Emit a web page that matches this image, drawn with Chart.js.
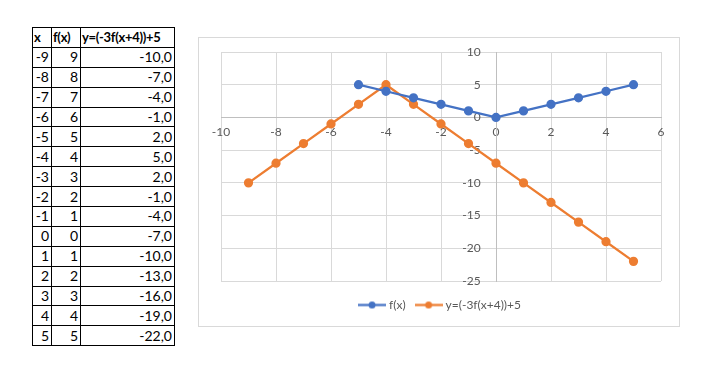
<!DOCTYPE html>
<html lang="en">
<head>
    <meta charset="UTF-8">
    <title>f(x) and y=(-3f(x+4))+5</title>
    <script src="https://cdn.jsdelivr.net/npm/chart.js"></script>
    <style>
        body {
            margin: 0;
            padding: 0;
            background-color: #ffffff;
            font-family: 'Lato', 'Open Sans', sans-serif;
            width: 712px;
            height: 374px;
            position: relative;
            overflow: hidden;
        }

        table {
            position: absolute;
            left: 32px;
            top: 27px;
            width: 142px;
            table-layout: fixed;
            border-collapse: collapse;
            font-size: 14px;
            color: #000;
        }

        table th, table td {
            border: 1px solid #000;
            height: 18.9px;
            padding: 0 2px;
            text-align: right;
            line-height: 18px;
            white-space: nowrap;
            overflow: visible;
        }

        table th {
            font-weight: 700;
            font-size: 13px;
            letter-spacing: -0.3px;
            text-align: left;
            padding: 0 1px;
        }

        .chart-box {
            position: absolute;
            left: 198px;
            top: 37px;
            width: 480px;
            height: 288px;
            border: 1px solid #d9d9d9;
        }
    </style>
</head>
<body>
    <table>
        <colgroup>
            <col style="width: 19px">
            <col style="width: 29px">
            <col style="width: 94px">
        </colgroup>
        <thead>
            <tr>
                <th>x</th>
                <th>f(x)</th>
                <th>y=(-3f(x+4))+5</th>
            </tr>
        </thead>
        <tbody id="table-body"></tbody>
    </table>

    <div class="chart-box">
        <canvas id="chart" width="480" height="288"></canvas>
    </div>

    <script>
        // table values
        const xValues = [-9, -8, -7, -6, -5, -4, -3, -2, -1, 0, 1, 2, 3, 4, 5];
        const fValues = [9, 8, 7, 6, 5, 4, 3, 2, 1, 0, 1, 2, 3, 4, 5];
        const yValues = [-10, -7, -4, -1, 2, 5, 2, -1, -4, -7, -10, -13, -16, -19, -22];

        // the f(x) series only shows x = -5..5 in the chart
        const fPlotX = [-5, -4, -3, -2, -1, 0, 1, 2, 3, 4, 5];
        const fPlotY = [5, 4, 3, 2, 1, 0, 1, 2, 3, 4, 5];

        const seriesNames = ['f(x)', 'y=(-3f(x+4))+5'];
        const seriesColors = ['#4472C4', '#ED7D31'];

        const xTicks = [-10, -8, -6, -4, -2, 0, 2, 4, 6];
        const yTicks = [10, 5, 0, -5, -10, -15, -20, -25];

        // build the table
        const tbody = document.getElementById('table-body');
        xValues.forEach((x, i) => {
            const row = document.createElement('tr');
            row.innerHTML = `
                <td>${x}</td>
                <td>${fValues[i]}</td>
                <td>${yValues[i].toFixed(1).replace('.', ',')}</td>
            `;
            tbody.appendChild(row);
        });

        function toPoints(xs, ys) {
            return xs.map((x, i) => ({ x: x, y: ys[i] }));
        }

        // small line + dot icon like the Excel legend
        function legendIcon(color) {
            const c = document.createElement('canvas');
            c.width = 28;
            c.height = 9;
            const g = c.getContext('2d');
            g.strokeStyle = color;
            g.lineWidth = 2.25;
            g.beginPath();
            g.moveTo(0, 4.5);
            g.lineTo(28, 4.5);
            g.stroke();
            g.fillStyle = color;
            g.beginPath();
            g.arc(14, 4.5, 3.5, 0, Math.PI * 2);
            g.fill();
            return c;
        }

        const icons = seriesColors.map(legendIcon);
        const textColor = '#595959';
        const chartFont = { family: "'Lato', 'Open Sans', sans-serif", size: 12 };

        new Chart(document.getElementById('chart').getContext('2d'), {
            type: 'scatter',
            data: {
                datasets: [
                    {
                        label: seriesNames[0],
                        data: toPoints(fPlotX, fPlotY),
                        showLine: true,
                        borderColor: seriesColors[0],
                        backgroundColor: seriesColors[0],
                        borderWidth: 2.25,
                        pointRadius: 3.5,
                        pointHoverRadius: 3.5
                    },
                    {
                        label: seriesNames[1],
                        data: toPoints(xValues, yValues),
                        showLine: true,
                        borderColor: seriesColors[1],
                        backgroundColor: seriesColors[1],
                        borderWidth: 2.25,
                        pointRadius: 3.5,
                        pointHoverRadius: 3.5
                    }
                ]
            },
            options: {
                responsive: false,
                animation: false,
                layout: {
                    padding: { left: 22, right: 18, top: 14, bottom: 5 }
                },
                plugins: {
                    tooltip: { enabled: false },
                    legend: {
                        position: 'bottom',
                        // empty title just to give the legend some extra height
                        title: { display: true, text: '', padding: 0, font: { size: 6, lineHeight: 1 } },
                        labels: {
                            usePointStyle: true,
                            pointStyleWidth: 22,
                            boxHeight: 9,
                            padding: 12,
                            color: textColor,
                            font: chartFont,
                            generateLabels: (chart) => {
                                const items = Chart.defaults.plugins.legend.labels.generateLabels(chart);
                                items.forEach((item, i) => { item.pointStyle = icons[i]; });
                                return items;
                            }
                        }
                    }
                },
                scales: {
                    x: {
                        type: 'linear',
                        position: { y: 0 },
                        min: -10,
                        max: 6,
                        afterBuildTicks: (axis) => { axis.ticks = xTicks.map(v => ({ value: v })); },
                        ticks: {
                            autoSkip: false,
                            maxRotation: 0,
                            padding: 7,
                            color: textColor,
                            font: chartFont
                        },
                        grid: { color: '#d9d9d9', lineWidth: 1, drawTicks: false },
                        border: { display: true, color: '#bfbfbf', width: 1 }
                    },
                    y: {
                        type: 'linear',
                        position: { x: 0 },
                        min: -25,
                        max: 10,
                        afterBuildTicks: (axis) => { axis.ticks = yTicks.map(v => ({ value: v })); },
                        ticks: {
                            autoSkip: false,
                            // padding is not used for value-positioned y axes, so pad the label
                            callback: (v) => v + '     ',
                            color: textColor,
                            font: chartFont
                        },
                        grid: { color: '#d9d9d9', lineWidth: 1, drawTicks: false },
                        border: { display: true, color: '#bfbfbf', width: 1 }
                    }
                }
            }
        });
    </script>
</body>
</html>
